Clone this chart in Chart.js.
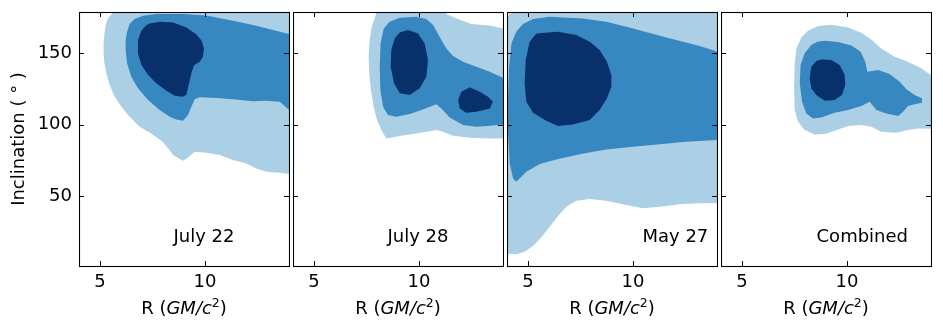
<!DOCTYPE html>
<html>
<head>
<meta charset="utf-8">
<script src="https://cdn.jsdelivr.net/npm/chart.js@4.4.1/dist/chart.umd.min.js"></script>
<style>
  html, body { margin: 0; padding: 0; background: #fff; }
  #wrap { position: relative; width: 943px; height: 329px; overflow: hidden; }
  #wrap canvas { position: absolute; top: 0; }
</style>
</head>
<body>
<div id="wrap">
  <canvas id="c0" width="290" height="329" style="left:0px"></canvas>
  <canvas id="c1" width="211" height="329" style="left:293px"></canvas>
  <canvas id="c2" width="211" height="329" style="left:507px"></canvas>
  <canvas id="c3" width="211" height="329" style="left:721px"></canvas>
</div>
<script>
// tick values
const xTicks = [5, 10];
const yTicks = [50, 100, 150];
const panelNames = ['July 22', 'July 28', 'May 27', 'Combined'];

// contour outlines, [R, inclination]
const jul22Light = [[5.7,180],[5.38,174.5],[5.27,169.9],[5.21,164.0],[5.17,157.0],[5.17,150.0],[5.21,143.0],[5.30,136.0],[5.46,127.8],[5.70,119.6],[6.02,112.6],[6.41,105.6],[6.89,98.6],[7.44,93.9],[7.98,88.1],[8.32,82.2],[8.48,78.7],[8.95,74.8],[9.19,77.1],[9.51,81.1],[10.06,80.4],[10.70,78.7],[11.33,75.2],[11.97,72.9],[12.44,69.4],[12.92,67.1],[13.56,66.4],[14.2,65.0],[14.2,180]];
const jul22Mid = [[6.22,159.3],[6.29,165.2],[6.41,170.6],[6.65,174.1],[7.05,176.4],[7.68,177.6],[8.95,177.6],[10.06,176.6],[11.33,172.9],[12.29,169.9],[13.24,166.4],[14.2,162.8],[14.2,108],[13.98,110.7],[13.56,116.1],[12.92,116.8],[12.29,116.4],[11.33,117.8],[10.38,118.9],[9.75,119.2],[9.51,117.8],[9.35,112.6],[9.19,106.8],[8.95,102.8],[8.63,103.7],[8.32,105.6],[7.84,110.3],[7.29,117.3],[6.81,125.5],[6.49,133.6],[6.29,143.0],[6.22,152.3]];
const jul22Dark = [[7.37,171.0],[7.84,172.2],[8.48,171.7],[9.11,168.2],[9.59,163.3],[9.84,158.9],[9.95,153.5],[9.90,147.7],[9.75,144.2],[9.48,141.6],[9.37,137.1],[9.24,129.0],[9.11,120.8],[8.92,119.6],[8.56,120.3],[8.16,123.8],[7.68,129.0],[7.29,134.8],[6.97,141.8],[6.81,150.0],[6.81,159.3],[6.97,165.9],[7.21,169.9]];

const jul28Light = [[8.0,180],[7.89,174.5],[7.75,168.7],[7.65,159.3],[7.60,147.7],[7.63,136.0],[7.71,124.3],[7.84,112.6],[8.0,103.3],[8.21,96.3],[8.44,90.4],[9.08,92.1],[9.87,93.9],[10.83,96.3],[11.14,95.1],[11.62,92.3],[12.41,90.9],[13.37,90.4],[14.2,90.4],[14.2,167.8],[14.0,167.5],[13.37,169.6],[12.49,170.6],[11.78,174.5],[11.30,177.6],[11.2,180]];
const jul28Mid = [[8.60,172.2],[9.08,175.0],[9.87,175.7],[10.35,174.1],[10.67,169.9],[10.98,161.7],[11.30,153.5],[11.62,148.1],[12.10,144.2],[12.73,140.7],[13.37,137.1],[14.2,131.5],[14.2,100.5],[13.37,99.3],[12.73,98.6],[12.10,99.8],[11.46,105.1],[11.11,110.7],[10.83,114.3],[10.19,110.7],[9.56,107.5],[8.92,105.6],[8.52,106.8],[8.29,112.6],[8.16,124.3],[8.13,140.7],[8.17,157.0],[8.32,167.5]];
const jul28DarkA = [[9.48,166.4],[9.95,164.0],[10.27,157.0],[10.43,145.3],[10.35,133.6],[10.03,125.5],[9.56,120.8],[9.08,122.0],[8.81,129.0],[8.65,140.7],[8.68,152.3],[8.84,160.5],[9.08,164.7]];
const jul28DarkB = [[12.41,126.2],[12.89,123.1],[13.29,119.6],[13.52,116.1],[13.37,111.4],[12.73,109.1],[12.25,108.4],[11.94,111.4],[11.86,117.3],[12.02,123.1]];

const may27Light = [[4.2,180],[4.05,176],[4.04,9.8],[4.44,9.3],[4.84,11.0],[5.24,15.0],[5.63,21.0],[6.03,28.5],[6.43,36.0],[6.83,42.5],[7.30,46.7],[7.94,47.9],[8.73,46.7],[9.68,43.7],[10.48,41.4],[11.27,42.5],[12.22,44.2],[13.17,44.9],[14.2,45.3],[14.2,180]];
const may27Mid = [[4.21,157.0],[4.44,165.2],[4.76,170.6],[5.24,174.1],[6.03,175.7],[7.62,174.5],[8.73,172.2],[10.0,167.5],[11.59,161.2],[13.17,155.1],[14.2,150.5],[14.2,89.5],[12.54,88.1],[11.27,86.4],[10.0,84.6],[8.73,82.7],[8.10,81.1],[7.30,78.7],[6.35,75.7],[5.56,72.4],[4.92,67.1],[4.60,62.4],[4.44,60.0],[4.29,62.4],[4.13,72.9],[4.05,93.9],[4.05,117.3],[4.10,140.7]];
const may27Dark = [[5.40,164.0],[6.43,165.2],[7.30,162.9],[7.94,158.2],[8.41,152.3],[8.76,144.2],[8.97,134.8],[8.97,126.6],[8.76,118.5],[8.41,110.3],[7.94,103.3],[7.14,100.2],[6.43,99.1],[5.87,102.8],[5.24,108.4],[4.92,116.1],[4.84,129.0],[4.89,145.3],[5.08,158.2]];

const combLight = [[7.59,153.5],[7.83,161.2],[8.14,165.9],[8.62,169.2],[9.25,170.1],[10.05,168.2],[10.68,164.5],[11.16,159.8],[11.63,153.5],[12.27,147.7],[12.90,144.2],[13.54,139.5],[14.2,132.5],[14.2,97.0],[13.38,97.4],[12.90,96.3],[12.35,94.4],[11.63,95.1],[11.16,98.6],[10.68,99.8],[10.05,99.1],[9.41,95.8],[8.94,93.5],[8.46,93.2],[7.98,96.3],[7.67,102.1],[7.51,110.3],[7.48,126.6],[7.51,143.0]];
const combMid = [[8.94,158.9],[9.57,157.9],[10.21,155.6],[10.65,151.2],[10.87,144.2],[10.97,137.1],[11.48,138.3],[12.03,135.5],[12.51,130.1],[12.83,124.8],[13.22,120.8],[13.57,118.5],[13.57,115.4],[13.22,114.3],[12.90,113.1],[12.67,109.1],[12.43,106.1],[11.87,107.9],[11.40,110.3],[11.08,116.1],[10.68,113.1],[10.05,110.3],[9.41,108.4],[8.78,105.1],[8.38,104.4],[8.06,107.9],[7.86,116.1],[7.75,129.0],[7.79,141.8],[7.98,150.0],[8.30,155.8],[8.59,158.2]];
const combDark = [[8.78,145.8],[9.25,145.3],[9.65,141.8],[9.89,134.8],[9.92,127.8],[9.76,120.8],[9.41,117.3],[8.94,116.8],[8.54,120.8],[8.30,125.5],[8.22,132.5],[8.30,140.7],[8.54,144.6]];

const levelColors = ['rgb(171,208,230)', 'rgb(55,135,192)', 'rgb(8,48,107)'];

const FONT = '"DejaVu Sans", sans-serif';

// fills each outline as a closed shape from the points the scales placed
const polygonFill = {
  id: 'polygonFill',
  beforeDatasetDraw(chart, args) {
    const ds = chart.data.datasets[args.index];
    const pts = args.meta.data;
    const a = chart.chartArea;
    const ctx = chart.ctx;
    ctx.save();
    ctx.beginPath();
    ctx.rect(a.left, a.top, a.right - a.left, a.bottom - a.top);
    ctx.clip();
    ctx.beginPath();
    pts.forEach((p, i) => i ? ctx.lineTo(p.x, p.y) : ctx.moveTo(p.x, p.y));
    ctx.closePath();
    ctx.fillStyle = ds.backgroundColor;
    ctx.fill();
    ctx.restore();
  }
};

// frame, inward ticks, panel name, x title
const panelDeco = {
  id: 'panelDeco',
  afterDraw(chart, args, opts) {
    const {ctx, chartArea: a} = chart;
    const x = chart.scales.x, y = chart.scales.y;
    ctx.save();
    ctx.strokeStyle = '#000';
    ctx.lineWidth = 1.1;
    ctx.strokeRect(a.left + 0.5, a.top + 0.5, a.right - a.left, a.bottom - a.top);
    const tl = 5;
    ctx.lineWidth = 1;
    ctx.beginPath();
    xTicks.forEach(v => {
      const px = Math.round(x.getPixelForValue(v)) + 0.5;
      ctx.moveTo(px, a.bottom); ctx.lineTo(px, a.bottom - tl);
      ctx.moveTo(px, a.top); ctx.lineTo(px, a.top + tl);
    });
    yTicks.forEach(v => {
      const py = Math.round(y.getPixelForValue(v)) + 0.5;
      ctx.moveTo(a.left, py); ctx.lineTo(a.left + tl, py);
      ctx.moveTo(a.right, py); ctx.lineTo(a.right - tl, py);
    });
    ctx.stroke();

    ctx.fillStyle = '#000';
    ctx.textBaseline = 'alphabetic';
    ctx.textAlign = 'left';
    ctx.font = '18px ' + FONT;
    ctx.fillText(opts.label, a.left + opts.labelAt * (a.right - a.left), a.bottom - 24);

    // R (GM/c^2)
    const parts = [
      ['R (', '18px ' + FONT, 0],
      ['GM/c', 'italic 18px ' + FONT, 0],
      ['2', '12.5px ' + FONT, -7],
      [')', '18px ' + FONT, 0]
    ];
    let total = 0;
    parts.forEach(p => { ctx.font = p[1]; p.w = ctx.measureText(p[0]).width; total += p.w; });
    let cx = (a.left + a.right) / 2 - total / 2;
    parts.forEach(p => {
      ctx.font = p[1];
      ctx.fillText(p[0], cx, 314 + p[2]);
      cx += p.w;
    });
    ctx.restore();
  }
};

function makeDatasets(shapes) {
  return shapes.map(s => ({
    data: s.pts.map(p => ({x: p[0], y: p[1]})),
    backgroundColor: levelColors[s.level],
    order: 3 - s.level,
    showLine: false,
    pointRadius: 0,
    pointHoverRadius: 0
  }));
}

function noPad(s) {
  s.paddingTop = 0;
  s.paddingBottom = 0;
  s.paddingLeft = 0;
  s.paddingRight = 0;
}

const panels = [
  {id: 'c0', labelAt: 0.45, yAxis: true, shapes: [
    {pts: jul22Light, level: 0}, {pts: jul22Mid, level: 1}, {pts: jul22Dark, level: 2}]},
  {id: 'c1', labelAt: 0.45, yAxis: false, shapes: [
    {pts: jul28Light, level: 0}, {pts: jul28Mid, level: 1}, {pts: jul28DarkA, level: 2}, {pts: jul28DarkB, level: 2}]},
  {id: 'c2', labelAt: 0.645, yAxis: false, shapes: [
    {pts: may27Light, level: 0}, {pts: may27Mid, level: 1}, {pts: may27Dark, level: 2}]},
  {id: 'c3', labelAt: 0.455, yAxis: false, shapes: [
    {pts: combLight, level: 0}, {pts: combMid, level: 1}, {pts: combDark, level: 2}]}
];

panels.forEach((p, i) => {
  new Chart(document.getElementById(p.id), {
    type: 'scatter',
    data: {datasets: makeDatasets(p.shapes)},
    options: {
      responsive: false,
      animation: false,
      events: [],
      layout: {autoPadding: false, padding: {top: 12, right: 1, bottom: 0, left: 0}},
      plugins: {
        legend: {display: false},
        tooltip: {enabled: false},
        panelDeco: {label: panelNames[i], labelAt: p.labelAt}
      },
      scales: {
        x: {
          type: 'linear',
          min: 4,
          max: 14,
          afterBuildTicks: s => { s.ticks = xTicks.map(v => ({value: v})); },
          afterFit: s => { s.height = 63; noPad(s); },
          grid: {display: false, drawTicks: false},
          border: {display: false},
          ticks: {color: '#000', padding: 6, font: {family: FONT, size: 18}}
        },
        y: {
          type: 'linear',
          display: p.yAxis,
          min: 1,
          max: 179,
          afterBuildTicks: s => { s.ticks = yTicks.map(v => ({value: v})); },
          afterFit: s => { s.width = p.yAxis ? 79 : 0; noPad(s); },
          grid: {display: false, drawTicks: false},
          border: {display: false},
          ticks: {color: '#000', padding: 7, font: {family: FONT, size: 18}},
          title: {
            display: true,
            text: 'Inclination ( \u00b0 )',
            color: '#000',
            font: {family: FONT, size: 18},
            padding: {top: 9, bottom: 0}
          }
        }
      }
    },
    plugins: [polygonFill, panelDeco]
  });
});
</script>
</body>
</html>
